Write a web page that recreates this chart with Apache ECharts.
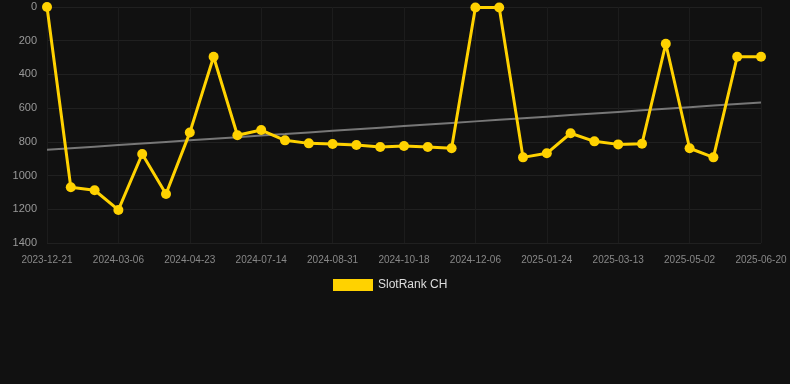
<!DOCTYPE html>
<html>
<head>
<meta charset="utf-8">
<script src="https://cdn.jsdelivr.net/npm/echarts@6/dist/echarts.min.js"></script>
<style>
html, body { margin:0; padding:0; background:#111111; }
#chart { width:790px; height:384px; }
</style>
</head>
<body>
<div id="chart"></div>
<script>
// dates on the x axis (only every 3rd one is labelled)
var dates = [
    '2023-12-21','2024-01-16','2024-02-10','2024-03-06','2024-03-22','2024-04-07',
    '2024-04-23','2024-05-20','2024-06-17','2024-07-14','2024-07-30','2024-08-15',
    '2024-08-31','2024-09-16','2024-10-02','2024-10-18','2024-11-03','2024-11-19',
    '2024-12-06','2024-12-22','2025-01-08','2025-01-24','2025-02-09','2025-02-25',
    '2025-03-13','2025-03-30','2025-04-16','2025-05-02','2025-05-18','2025-06-04',
    '2025-06-20'
];
// rank values (lower is better, axis inverted)
var ranks = [
    0, 1069, 1087, 1204, 872, 1109,
    745, 295, 761, 730, 791, 809,
    813, 819, 831, 825, 831, 838,
    3, 3, 892, 868, 749, 797,
    815, 811, 218, 838, 892, 295,
    295
];
var yTicks = [0, 200, 400, 600, 800, 1000, 1200, 1400];

//趋势线：最小二乘
function trendLine(vals){
    var n = vals.length, sx = 0, sy = 0, sxy = 0, sxx = 0;
    for(var i=0; i<n; i++){
        sx += i; sy += vals[i]; sxy += i*vals[i]; sxx += i*i;
    }
    var k = (n*sxy - sx*sy) / (n*sxx - sx*sx);
    var b = (sy - k*sx) / n;
    var out = [];
    for(var j=0; j<n; j++){ out.push(+(k*j + b).toFixed(1)); }
    return out;
}

var chart = echarts.init(document.getElementById('chart'));
var option = {
    backgroundColor: '#111111',
    animation: false,
    grid: { left: 47, right: 29, top: 7, bottom: 141 },
    legend: {
        bottom: 88,
        left: 328,
        itemWidth: 40,
        itemHeight: 12,
        icon: 'rect',
        textStyle: { color: '#dddddd', fontSize: 12, fontFamily: 'Arial, Liberation Sans, sans-serif' },
        data: ['SlotRank CH']
    },
    xAxis: {
        type: 'category',
        boundaryGap: false,
        data: dates,
        axisLine: { show: false },
        axisTick: { show: false },
        axisLabel: { interval: 2, color: '#888888', fontSize: 10, margin: 12, fontFamily: 'Arial, Liberation Sans, sans-serif' },
        splitLine: { show: true, interval: 2, lineStyle: { color: '#1c1c1c', width: 1 } }
    },
    yAxis: {
        type: 'value',
        inverse: true,
        min: yTicks[0],
        max: yTicks[yTicks.length-1],
        interval: 200,
        axisLine: { show: false },
        axisTick: { show: false },
        axisLabel: {
            color: '#999999', fontSize: 11, margin: 10,
            fontFamily: 'Arial, Liberation Sans, sans-serif',
            formatter: function(v){ return String(v); }
        },
        splitLine: { lineStyle: { color: '#202020', width: 1 } }
    },
    series: [
        {
            name: 'SlotRank CH',
            type: 'line',
            data: ranks,
            symbol: 'circle',
            symbolSize: 10,
            itemStyle: { color: '#ffd200' },
            lineStyle: { color: '#ffd200', width: 3 },
            z: 3
        },
        {
            name: 'trend',
            type: 'line',
            data: trendLine(ranks),
            symbol: 'none',
            lineStyle: { color: '#777777', width: 2 },
            z: 2
        }
    ]
};
chart.setOption(option);
</script>
</body>
</html>
